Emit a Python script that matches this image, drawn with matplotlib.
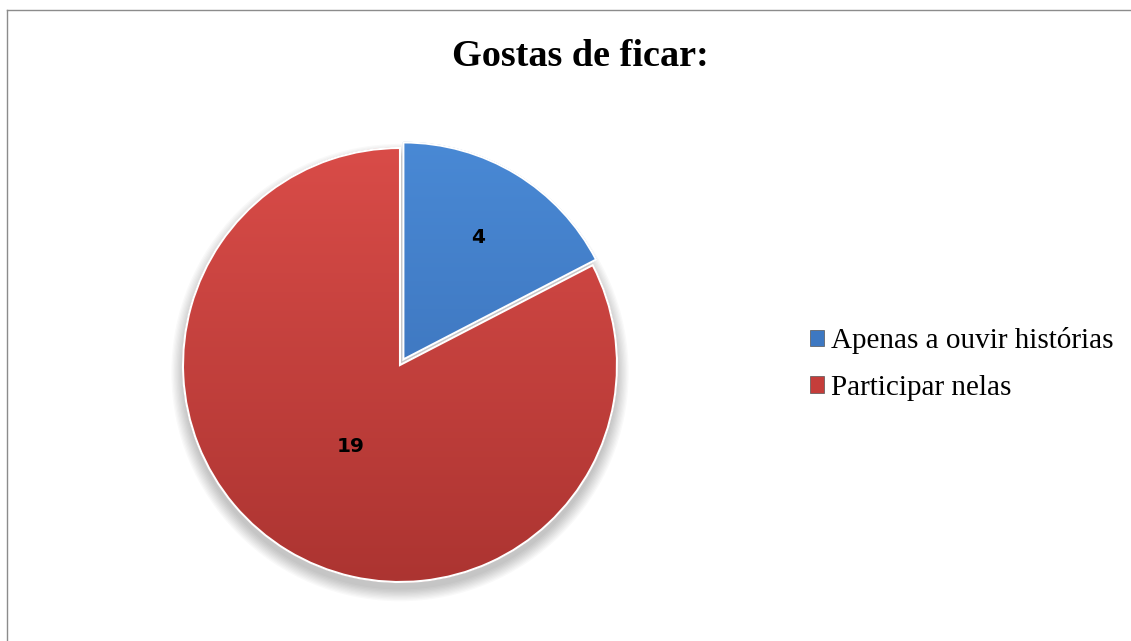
import matplotlib
matplotlib.use('Agg')
import matplotlib.pyplot as plt
import numpy as np
from matplotlib.patches import Patch, Circle, PathPatch
from matplotlib.lines import Line2D
from matplotlib.colors import LinearSegmentedColormap

# data
categories = ['Apenas a ouvir histórias', 'Participar nelas']
values = [4, 19]
label_dist = [0.66, 0.44]
title = 'Gostas de ficar:'

top_colors = ['#4A8AD6', '#DB4D49']
bottom_colors = ['#3568AE', '#AA3330']
legend_colors = ['#3D78C2', '#C53D3A']

W, H = 1131, 641
fig = plt.figure(figsize=(W / 100, H / 100), dpi=100)
fig.patch.set_facecolor('white')

# pie axes: centre at (400, 365) px, radius 217 px
lim = 1.2
r_px = 217
size = 2 * lim * r_px
cx, cy = 400, H - 365
ax = fig.add_axes([(cx - size / 2) / W, (cy - size / 2) / H, size / W, size / H])

# soft shadow
for i in range(10):
    ax.add_patch(Circle((0.0, -0.035), 1.0 + 0.006 * i, color='black',
                        alpha=0.025, lw=0, zorder=0))

wedges, _ = ax.pie(values, startangle=90, counterclock=False,
                   explode=[0.03, 0], radius=1.0,
                   wedgeprops=dict(edgecolor='white', linewidth=1.5))
ax.set_xlim(-lim, lim)
ax.set_ylim(-lim, lim)
ax.set_aspect('equal')
ax.axis('off')

grad = np.linspace(0, 1, 256).reshape(-1, 1)
for w, tc, bc in zip(wedges, top_colors, bottom_colors):
    cmap = LinearSegmentedColormap.from_list('g', [bc, tc])
    im = ax.imshow(grad, cmap=cmap, origin='lower', extent=[-1.1, 1.1, -1.1, 1.1],
                   aspect='auto', zorder=w.get_zorder() + 0.1)
    im.set_clip_path(w)
    w.set_facecolor('none')
    w.set_zorder(w.get_zorder() + 0.3)
    # subtle bevel outline
    ax.add_patch(PathPatch(w.get_path(), transform=w.get_transform(), fill=False,
                           edgecolor=bc, lw=1.0, alpha=0.7,
                           zorder=w.get_zorder() - 0.1))

for w, v, d in zip(wedges, values, label_dist):
    ang = np.deg2rad((w.theta1 + w.theta2) / 2)
    x = w.center[0] + d * np.cos(ang)
    y = w.center[1] + d * np.sin(ang)
    ax.text(x, y, str(v), ha='center', va='center', fontsize=14.5,
            fontweight='bold', family='DejaVu Sans', color='black', zorder=10)

fig.text(580 / W, 1 - 57 / H, title, ha='center', va='center', fontsize=27.5,
         fontweight='bold', family='Liberation Serif')

handles = [Patch(facecolor=c, edgecolor='#555555', linewidth=0.5) for c in legend_colors]
fig.legend(handles, categories, loc='center left',
           bbox_to_anchor=(795 / W, 1 - 364 / H), frameon=False,
           prop=dict(family='Liberation Serif', size=21),
           handlelength=0.5, handleheight=0.5, handletextpad=0.25,
           labelspacing=0.7, borderpad=0)

# chart area border (top and left visible)
fig.add_artist(Line2D([7 / W, 1], [1 - 10 / H, 1 - 10 / H], color='#8c8c8c', lw=1,
                      transform=fig.transFigure))
fig.add_artist(Line2D([7 / W, 7 / W], [0, 1 - 10 / H], color='#8c8c8c', lw=1,
                      transform=fig.transFigure))

fig.savefig('out.png', dpi=100)
